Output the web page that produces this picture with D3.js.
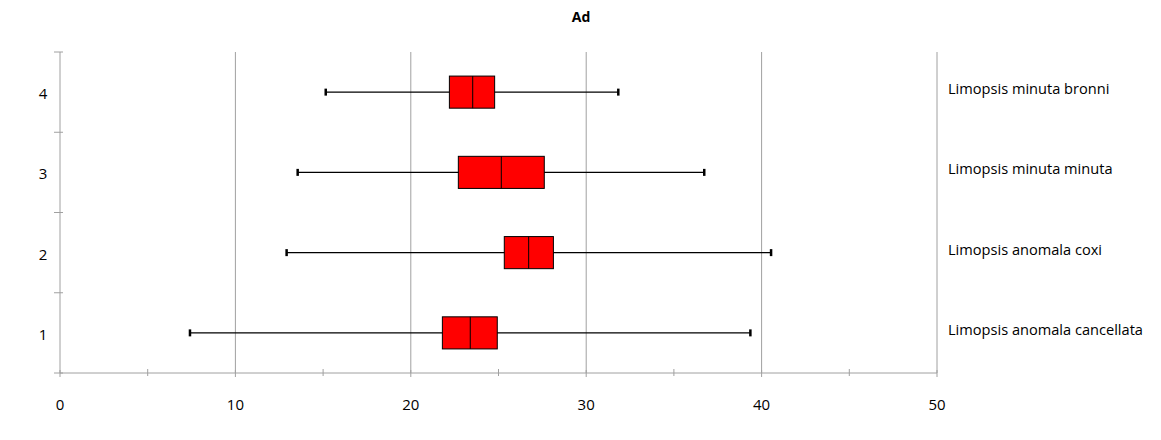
<!DOCTYPE html>
<html>
<head>
<meta charset="utf-8">
<script src="https://cdn.jsdelivr.net/npm/d3@7"></script>
<style>
  body { margin: 0; background: #fff; }
  svg { display: block; }
  text { font-family: "Open Sans", "Noto Sans", sans-serif; }
</style>
</head>
<body>
<svg id="chart" width="1161" height="440"></svg>
<script>
// ---- data ----
const title = "Ad";
const categories = ["1", "2", "3", "4"];
const seriesNames = ["Limopsis anomala cancellata", "Limopsis anomala coxi", "Limopsis minuta minuta", "Limopsis minuta bronni"];
const whiskerLow  = [7.41, 12.92, 13.55, 15.15];
const q1          = [21.8, 25.33, 22.71, 22.2];
const medians     = [23.39, 26.72, 25.16, 23.53];
const q3          = [24.93, 28.13, 27.61, 24.78];
const whiskerHigh = [39.36, 40.54, 36.73, 31.83];
const xTicks = [0, 10, 20, 30, 40, 50];
const xMinorTicks = [5, 15, 25, 35, 45];

// ---- layout ----
const svg = d3.select("#chart");
const pLeft = 60, pRight = 937, pTop = 52, pBottom = 373;

const x = d3.scaleLinear().domain([0, 50]).range([pLeft, pRight]);
const y = d3.scaleBand().domain(categories).range([pBottom, pTop]).padding(0);

const gridColor = "#a0a0a0";

// gridlines
svg.append("g").selectAll("line").data(xTicks.filter(d => d > 0))
  .join("line")
  .attr("x1", d => x(d)).attr("x2", d => x(d))
  .attr("y1", pTop).attr("y2", pBottom)
  .attr("stroke", gridColor).attr("stroke-width", 1);

// x axis
const xAxis = svg.append("g").attr("transform", `translate(0,${pBottom})`);
xAxis.append("line").attr("x1", pLeft).attr("x2", pRight).attr("y1", 0).attr("y2", 0)
  .attr("stroke", gridColor);
xAxis.selectAll("line.maj").data(xTicks).join("line").attr("class", "maj")
  .attr("x1", d => x(d)).attr("x2", d => x(d)).attr("y1", -3).attr("y2", 4)
  .attr("stroke", gridColor);
xAxis.selectAll("line.min").data(xMinorTicks).join("line").attr("class", "min")
  .attr("x1", d => x(d)).attr("x2", d => x(d)).attr("y1", -4).attr("y2", 3)
  .attr("stroke", gridColor);
xAxis.selectAll("text").data(xTicks).join("text")
  .attr("x", d => x(d)).attr("y", 37)
  .attr("text-anchor", "middle").attr("font-size", 15).attr("fill", "#000")
  .text(d => d);

// y axis
const yAxis = svg.append("g");
yAxis.append("line").attr("x1", pLeft).attr("x2", pLeft).attr("y1", pTop).attr("y2", pBottom)
  .attr("stroke", gridColor);
const yBounds = categories.map(c => y(c)).concat([pBottom]);
yAxis.selectAll("line.t").data(yBounds).join("line").attr("class", "t")
  .attr("x1", pLeft - 6).attr("x2", pLeft + 3).attr("y1", d => d).attr("y2", d => d)
  .attr("stroke", gridColor);
yAxis.selectAll("text").data(categories).join("text")
  .attr("x", 43).attr("y", d => y(d) + y.bandwidth() / 2 + 7)
  .attr("text-anchor", "middle").attr("font-size", 15).attr("fill", "#000")
  .text(d => d);

// boxes
const boxH = y.bandwidth() * 0.4;
const g = svg.append("g");
categories.forEach((c, i) => {
  const cy = y(c) + y.bandwidth() / 2;
  g.append("line")
    .attr("x1", x(whiskerLow[i])).attr("x2", x(whiskerHigh[i]))
    .attr("y1", cy).attr("y2", cy).attr("stroke", "#000").attr("stroke-width", 1.2);
  [whiskerLow[i], whiskerHigh[i]].forEach(v => {
    g.append("line")
      .attr("x1", x(v)).attr("x2", x(v))
      .attr("y1", cy - 3.5).attr("y2", cy + 3.5)
      .attr("stroke", "#000").attr("stroke-width", 2.5);
  });
  g.append("rect")
    .attr("x", x(q1[i])).attr("width", x(q3[i]) - x(q1[i]))
    .attr("y", cy - boxH / 2).attr("height", boxH)
    .attr("fill", "#ff0000").attr("stroke", "#000").attr("stroke-width", 1);
  g.append("line")
    .attr("x1", x(medians[i])).attr("x2", x(medians[i]))
    .attr("y1", cy - boxH / 2).attr("y2", cy + boxH / 2)
    .attr("stroke", "#000").attr("stroke-width", 1);
  svg.append("text")
    .attr("x", 948).attr("y", cy + 2)
    .attr("font-size", 14.6).attr("fill", "#000")
    .text(seriesNames[i]);
});

// title
svg.append("text")
  .attr("x", 581).attr("y", 22)
  .attr("text-anchor", "middle").attr("font-size", 14).attr("font-weight", "bold")
  .attr("fill", "#000").text(title);
</script>
</body>
</html>
